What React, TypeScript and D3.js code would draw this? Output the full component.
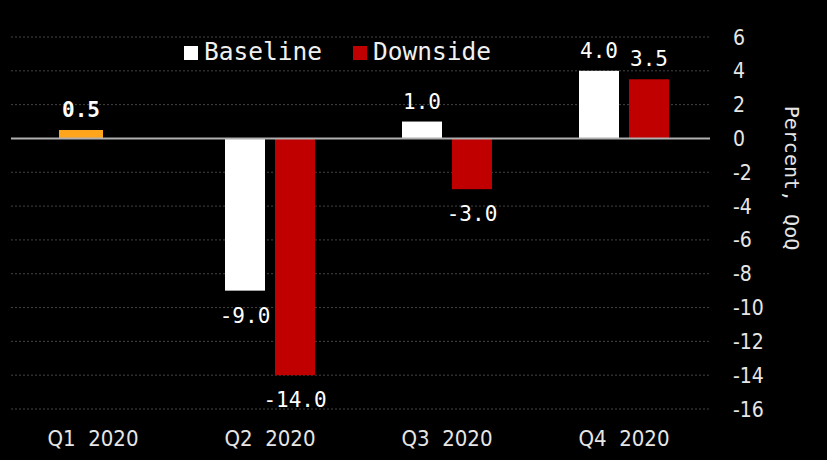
import React, { useEffect, useRef } from 'react';
import * as d3 from 'd3';

const quarters = ['Q1 2020', 'Q2 2020', 'Q3 2020', 'Q4 2020'];
const actual: (number | null)[] = [0.5, null, null, null];
const baseline: (number | null)[] = [null, -9.0, 1.0, 4.0];
const downside: (number | null)[] = [null, -14.0, -3.0, 3.5];
const yTicks = [6, 4, 2, 0, -2, -4, -6, -8, -10, -12, -14, -16];
const legendItems = [
  { label: 'Baseline', color: '#ffffff' },
  { label: 'Downside', color: '#c00000' }
];

const W = 827;
const H = 460;
const MONO = "'DejaVu Sans Mono', monospace";
const NARROW = "'Liberation Sans Narrow', 'DejaVu Sans Condensed', sans-serif";

const App: React.FC = () => {
  const svgRef = useRef<SVGSVGElement>(null);

  useEffect(() => {
    if (!svgRef.current) return;
    const svg = d3.select(svgRef.current);
    svg.selectAll('*').remove();

    svg.append('rect').attr('width', W).attr('height', H).attr('fill', '#000');

    const x = d3.scaleBand().domain(quarters).range([4.5, 712.5]).padding(0);
    const y = d3.scaleLinear().domain([-16, 6]).range([409, 37]);
    const cx = (q: string) => x(q)! + x.bandwidth() / 2;

    // grid lines
    svg.append('g')
      .selectAll('line')
      .data(yTicks.filter(t => t !== 0))
      .enter().append('line')
      .attr('x1', 11)
      .attr('x2', 710)
      .attr('y1', d => y(d))
      .attr('y2', d => y(d))
      .attr('stroke', '#444')
      .attr('stroke-width', 1)
      .attr('stroke-dasharray', '2,2');

    // y tick labels (right side)
    svg.append('g')
      .selectAll('text')
      .data(yTicks)
      .enter().append('text')
      .attr('x', 733)
      .attr('y', d => y(d))
      .attr('dy', '0.36em')
      .style('font-family', NARROW)
      .style('font-size', '21px')
      .style('fill', '#e6e6e6')
      .text(d => String(d));

    // axis title
    svg.append('text')
      .attr('transform', `translate(785, 178) rotate(90)`)
      .attr('text-anchor', 'middle')
      .style('font-family', MONO)
      .style('font-size', '20px')
      .style('fill', '#e6e6e6')
      .text('Percent, QoQ');

    // bars
    const barW = 40;
    const gap = 5;
    type Bar = { q: string; v: number; x0: number; w: number; color: string };
    const bars: Bar[] = [];
    quarters.forEach((q, i) => {
      const c = cx(q);
      if (actual[i] != null) bars.push({ q, v: actual[i]!, x0: c - 34, w: 44, color: '#ffa51c' });
      if (baseline[i] != null) bars.push({ q, v: baseline[i]!, x0: c - gap - barW, w: barW, color: '#ffffff' });
      if (downside[i] != null) bars.push({ q, v: downside[i]!, x0: c + gap, w: barW, color: '#c00000' });
    });

    svg.append('g')
      .selectAll('rect')
      .data(bars)
      .enter().append('rect')
      .attr('x', d => d.x0)
      .attr('width', d => d.w)
      .attr('y', d => Math.min(y(d.v), y(0)))
      .attr('height', d => Math.abs(y(d.v) - y(0)))
      .attr('fill', d => d.color);

    // value labels
    svg.append('g')
      .selectAll('text')
      .data(bars)
      .enter().append('text')
      .attr('x', d => d.x0 + d.w / 2)
      .attr('y', d => (d.v >= 0 ? y(d.v) - 13 : y(d.v) + 32))
      .attr('text-anchor', 'middle')
      .style('font-family', MONO)
      .style('font-size', '21px')
      .style('font-weight', (d: Bar) => (d.color === '#ffa51c' ? 'bold' : 'normal'))
      .style('fill', '#ffffff')
      .text(d => d.v.toFixed(1));

    // zero line
    svg.append('line')
      .attr('x1', 11)
      .attr('x2', 710)
      .attr('y1', y(0))
      .attr('y2', y(0))
      .attr('stroke', '#b0b0b0')
      .attr('stroke-width', 2);

    // x labels
    svg.append('g')
      .selectAll('text')
      .data(quarters)
      .enter().append('text')
      .attr('x', d => cx(d))
      .attr('y', 446)
      .attr('text-anchor', 'middle')
      .style('font-family', NARROW)
      .style('font-size', '22px')
      .style('white-space', 'pre')
      .style('fill', '#e6e6e6')
      .text(d => d.replace(' ', '\u00a0\u00a0'));

    // legend
    const legendX = [184, 353];
    const lg = svg.append('g');
    legendItems.forEach((item, i) => {
      lg.append('rect')
        .attr('x', legendX[i])
        .attr('y', 46)
        .attr('width', 14)
        .attr('height', 14)
        .attr('fill', item.color);
      lg.append('text')
        .attr('x', legendX[i] + 20)
        .attr('y', 60)
        .style('font-family', MONO)
        .style('font-size', '24.5px')
        .style('fill', '#f0f0f0')
        .text(item.label);
    });
  }, []);

  return (
    <div style={{ position: 'absolute', left: 0, top: 0 }}>
      <svg ref={svgRef} width={W} height={H} style={{ display: 'block' }} />
    </div>
  );
};

export default App;
